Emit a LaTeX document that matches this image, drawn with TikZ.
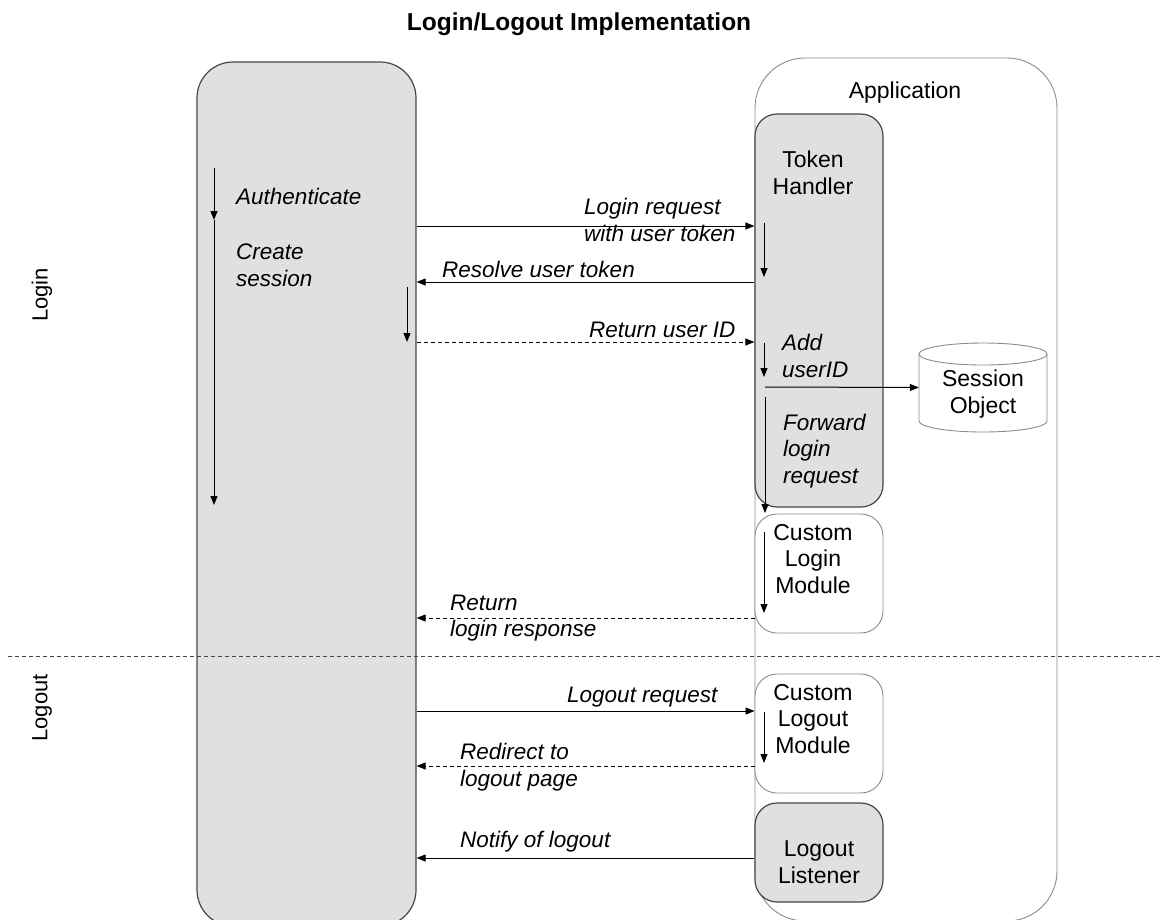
\documentclass[tikz,border=0pt]{standalone}
\usepackage{fontspec}
\setmainfont{Liberation Sans}
\usetikzlibrary{arrows.meta}
\definecolor{boxgray}{RGB}{224,224,224}
\definecolor{edgedark}{RGB}{70,70,70}
\definecolor{edgelight}{RGB}{140,140,140}
\begin{document}
\begin{tikzpicture}[x=1pt,y=-1pt,
  graybox/.style={draw=edgedark, line width=1.2pt, fill=boxgray, inner sep=0pt},
  whitebox/.style={draw=edgelight, line width=0.9pt, fill=white, inner sep=0pt},
  lbl/.style={font=\fontsize{22.5}{26.5}\selectfont\itshape, inner sep=0pt, align=left},
  txt/.style={font=\fontsize{23}{26.5}\selectfont, inner sep=0pt, align=center},
  arr/.style={line width=1pt, -{Triangle[length=9pt,width=7pt]}},
  darr/.style={arr, dash pattern=on 4pt off 3pt},
  sep/.style={line width=0.8pt, draw=edgedark, dash pattern=on 4pt off 3pt}]
\useasboundingbox (0,0) rectangle (1161,919);

% title
\node[font=\fontsize{24.5}{28}\selectfont\bfseries, inner sep=0pt] (title) at (579,24) {Login/Logout Implementation};

% lanes
\node[graybox, minimum width=219, minimum height=864, rounded corners=36] (client) at (306.5,494) {};
\node[whitebox, minimum width=302, minimum height=863, rounded corners=50] (app) at (906,489.5) {};
\node[txt] (apptitle) at (905,93) {Application};

\node[graybox, minimum width=128, minimum height=393, rounded corners=22] (token) at (819,310.5) {};
\node[whitebox, minimum width=128, minimum height=119, rounded corners=22] (clogin) at (819,573.5) {};
\node[whitebox, minimum width=128, minimum height=119, rounded corners=22] (clogout) at (819,733.5) {};
\node[graybox, minimum width=128, minimum height=99, rounded corners=22] (listener) at (819,852.5) {};

\node[txt] (tokentxt) at (813,173) {Token\\Handler};
\node[txt] (clogintxt) at (813,559) {Custom\\Login\\Module};
\node[txt] (clogouttxt) at (813,719) {Custom\\Logout\\Module};
\node[txt] (listenertxt) at (819,862) {Logout\\Listener};

% session object cylinder
\node[minimum width=128, minimum height=89, inner sep=0pt] (sess) at (983,387.5) {};
\draw[edgelight, line width=0.9pt, fill=white]
  (919,354) -- (919,421)
  .. controls (919,427.1) and (947.65,432) .. (983,432)
  .. controls (1018.35,432) and (1047,427.1) .. (1047,421)
  -- (1047,354);
\draw[edgelight, line width=0.9pt, fill=white] (983,354) ellipse [x radius=64pt, y radius=11pt];
\node[txt, align=center] (sesstxt) at (983,394) {Session\\[0.5pt]Object};

% section labels and separator
\node[font=\fontsize{22}{26}\selectfont, rotate=90, inner sep=0pt] (loginlbl) at (42,295) {Login};
\node[font=\fontsize{22}{26}\selectfont, rotate=90, inner sep=0pt] (logoutlbl) at (42,708) {Logout};
\coordinate (sepL) at (8,656);
\coordinate (sepR) at (1161,656);
\draw[sep] (sepL) -- (sepR);

% client internal flow
\coordinate (c1) at (214,168);
\coordinate (c2) at (214,220);
\coordinate (c3) at (214,505);
\draw[arr] (c1) -- (c2);
\draw[arr] (c2) -- (c3);
\node[lbl, anchor=base west] (auth) at (236,204) {Authenticate};
\node[lbl, anchor=west] (create) at (236,265) {Create\\session};

% messages
\draw[arr] (client.east |- 0,226) -- (token.west |- 0,226);
\node[lbl, anchor=west] (loginreq) at (584,220) {Login request\\with user token};

\coordinate (t1) at (764,223);
\coordinate (t2) at (764,277);
\draw[arr] (t1) -- (t2);

\draw[arr] (token.west |- 0,282) -- (client.east |- 0,282);
\node[lbl, anchor=base west] (resolve) at (442,277) {Resolve user token};

\coordinate (r1) at (407,287);
\coordinate (r2) at (407,342);
\draw[arr] (r1) -- (r2);

\draw[darr] (client.east |- 0,342) -- (token.west |- 0,342);
\node[lbl, anchor=base west] (retid) at (589,337) {Return user ID};

\coordinate (t3) at (764,343);
\coordinate (t4) at (764,377);
\draw[arr] (t3) -- (t4);
\node[lbl, anchor=west] (adduid) at (782,356) {Add\\userID};

\coordinate (t5) at (765,387);
\draw[arr] (t5) -- (sess.west);

\coordinate (t6) at (765,397);
\coordinate (t7) at (765,513);
\draw[arr] (t6) -- (t7);
\node[lbl, anchor=west] (fwd) at (783,451) {Forward\\login\\request};

\coordinate (m1) at (764,532);
\coordinate (m2) at (764,613);
\draw[arr] (m1) -- (m2);

\draw[darr] (clogin.west |- 0,618) -- (client.east |- 0,618);
\node[lbl, anchor=west] (retresp) at (450,618) {Return\\login response};

% logout
\draw[arr] (client.east |- 0,711) -- (clogout.west |- 0,711);
\node[lbl, anchor=base west] (logoutreq) at (567,702) {Logout request};

\coordinate (m3) at (764,712);
\coordinate (m4) at (764,763);
\draw[arr] (m3) -- (m4);

\draw[darr] (clogout.west |- 0,766) -- (client.east |- 0,766);
\node[lbl, anchor=west] (redirect) at (460,767) {Redirect to\\logout page};

\draw[arr] (listener.west |- 0,858) -- (client.east |- 0,858);
\node[lbl, anchor=base west] (notify) at (460,847) {Notify of logout};
\end{tikzpicture}
\end{document}
